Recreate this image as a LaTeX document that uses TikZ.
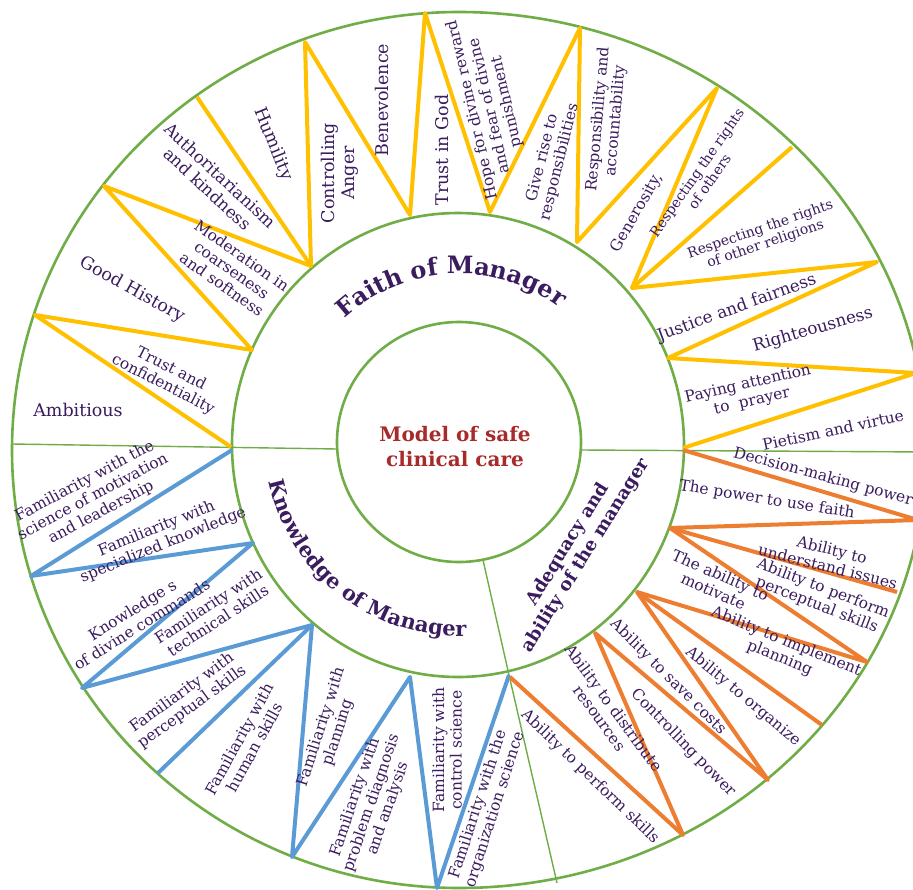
\documentclass[tikz,border=0pt]{standalone}
\usepackage{fontspec}
\setmainfont{DejaVu Serif}
\usepackage{tikz}
\usetikzlibrary{decorations.text}
\definecolor{ringGreen}{RGB}{112,173,71}
\definecolor{faithGold}{RGB}{255,192,0}
\definecolor{knowBlue}{RGB}{91,155,213}
\definecolor{abilOrange}{RGB}{237,125,49}
\definecolor{labelPurple}{RGB}{58,28,95}
\definecolor{coreRed}{RGB}{168,42,42}
\newcommand{\titlefont}{\bfseries\fontsize{24}{27}\selectfont}
\newcommand{\knowfont}{\bfseries\fontsize{21}{24}\selectfont}

\begin{document}
\begin{tikzpicture}[
    x=1pt, y=-1pt,
    ring/.style={draw=ringGreen, line width=2.6pt},
    divider/.style={draw=ringGreen, line width=1.4pt},
    faith/.style={draw=faithGold, line width=4pt, line join=round},
    know/.style={draw=knowBlue, line width=4pt, line join=round},
    abil/.style={draw=abilOrange, line width=4pt, line join=round},
    lbl/.style={text=labelPurple, align=center, inner sep=0pt, font=\fontsize{15.5}{17.5}\selectfont},
    lblbig/.style={lbl, font=\fontsize{17.5}{19.5}\selectfont},
    lblmid/.style={lbl, font=\fontsize{16.8}{18.5}\selectfont},
    lblsmall/.style={lbl, font=\fontsize{14}{15.5}\selectfont},
    sectitle/.style={text=labelPurple, align=center, inner sep=0pt, font=\bfseries\fontsize{18}{21}\selectfont},
    coretext/.style={text=coreRed, align=center, inner sep=0pt, font=\bfseries\fontsize{20}{25}\selectfont}
]
    \clip (0,0) rectangle (913,889);
    \fill[white] (0,0) rectangle (913,889);

    % Rings
    \draw[ring] (459,12) arc[start angle=270, end angle=90, x radius=447, y radius=438]
        arc[start angle=90, end angle=-90, x radius=467, y radius=438];
    \draw[ring] (458,445) ellipse[x radius=226, y radius=232];
    \draw[ring] (459,442) ellipse[x radius=122, y radius=120];

    % Dividers
    \coordinate (dl-out) at (12,444);
    \coordinate (dl-in) at (337,449);
    \coordinate (dr-in) at (581,450);
    \coordinate (dr-out) at (930,452);
    \coordinate (db-in) at (483,560);
    \coordinate (db-mid) at (509,675);
    \coordinate (db-out) at (557,883);
    \draw[divider] (dl-out) -- (dl-in);
    \draw[divider] (dr-in) -- (dr-out);
    \draw[divider] (db-in) -- (db-mid) -- (db-out);

    % Faith zigzag
    \coordinate (y1) at (231,447);
    \coordinate (y2) at (35,315);
    \coordinate (y3) at (252,350);
    \coordinate (y4) at (104,186);
    \coordinate (y5) at (311,266);
    \coordinate (y6) at (197,97);
    \coordinate (y7) at (305,42);
    \coordinate (y8) at (410,215);
    \coordinate (y9) at (425,13);
    \coordinate (y10) at (490,212);
    \coordinate (y11) at (580,28);
    \coordinate (y12) at (577,242);
    \coordinate (y13) at (717,88);
    \coordinate (y14) at (632,288);
    \coordinate (y15) at (792,147);
    \coordinate (y16) at (877,262);
    \coordinate (y17) at (668,358);
    \coordinate (y18) at (916,373);
    \coordinate (y19) at (683,448);
    \draw[faith] (y1) -- (y2) -- (y3) -- (y4) -- (y5) -- (y7) -- (y8) -- (y9) -- (y10)
        -- (y11) -- (y12) -- (y13) -- (y14) -- (y16) -- (y17) -- (y18) -- (y19);
    \draw[faith] (y5) -- (y6);
    \draw[faith] (y14) -- (y15);

    % Knowledge zigzag
    \coordinate (b1) at (232,450);
    \coordinate (b2) at (31,576);
    \coordinate (b3) at (253,543);
    \coordinate (b4) at (82,688);
    \coordinate (b5) at (312,625);
    \coordinate (b6) at (158,773);
    \coordinate (b7) at (292,857);
    \coordinate (b8) at (410,677);
    \coordinate (b9) at (437,888);
    \coordinate (b10) at (509,675);
    \draw[know] (b1) -- (b2) -- (b3) -- (b4) -- (b5) -- (b7) -- (b8) -- (b9) -- (b10);
    \draw[know] (b5) -- (b6);

    % Adequacy zigzag
    \coordinate (o1) at (683,450);
    \coordinate (o2) at (918,520);
    \coordinate (o3) at (670,528);
    \coordinate (o4) at (897,592);
    \coordinate (o5) at (867,662);
    \coordinate (o6) at (637,592);
    \coordinate (o7) at (822,725);
    \coordinate (o8) at (768,780);
    \coordinate (o9) at (595,633);
    \coordinate (o10) at (683,835);
    \coordinate (o11) at (510,677);
    \draw[abil] (o1) -- (o2) -- (o3) -- (o5) -- (o6) -- (o8) -- (o9) -- (o10) -- (o11);
    \draw[abil] (o3) -- (o4);
    \draw[abil] (o6) -- (o7);

    % Centre and section titles
    \node[coretext] (core) at (455,447) {Model of safe\\clinical care};
    \path[decorate, decoration={text along path, text align=center, text color=labelPurple,
        text={|\titlefont|Faith of Manager}}]
        (459,442) ++(219:168) arc[start angle=219, end angle=315, radius=168];
    \path[decorate, decoration={text along path, text align=center, text color=labelPurple,
        text={|\knowfont|Knowledge of Manager}}]
        (459,442) ++(170:194) arc[start angle=170, end angle=86, radius=194];
    \node[sectitle, rotate=58] (adequacy) at (577,550) {Adequacy and\\ability of the manager};

    % Faith labels
    \node[lblbig] (ambitious) at (78,410) {Ambitious};
    \node[lbl, rotate=-27] (trust) at (167,377) {Trust and\\confidentiality};
    \node[lblbig, rotate=-29] (history) at (132,290) {Good History};
    \node[lblmid, rotate=-43] (authority) at (214,182) {Authoritarianism\\and kindness};
    \node[lbl, rotate=-35] (moderation) at (232,270) {Moderation in\\coarseness\\and softness};
    \node[lblbig, rotate=-68] (humility) at (273,144) {Humility};
    \node[lblbig, rotate=90] (anger) at (340,173) {Controlling\\Anger};
    \node[lblbig, rotate=90] (benevolence) at (382,100) {Benevolence};
    \node[lblbig, rotate=90] (trustgod) at (442,150) {Trust in God};
    \node[lbl, rotate=103] (hope) at (490,106) {Hope for divine reward\\and fear of divine\\punishment};
    \node[lbl, rotate=76] (giverise) at (551,160) {Give rise to\\responsibilities};
    \node[lbl, rotate=85] (responsibility) at (607,120) {Responsibility and\\accountability};
    \node[lbl, rotate=60] (generosity) at (637,213) {Generosity,};
    \node[lblsmall, rotate=55] (rightsothers) at (703,177) {Respecting the rights\\of others};
    \node[lblsmall, rotate=19] (religions) at (763,237) {Respecting the rights\\of other religions};
    \node[lblmid, rotate=20] (justice) at (737,308) {Justice and fairness};
    \node[lblmid, rotate=16] (righteous) at (813,330) {Righteousness};
    \node[lbl, rotate=13] (prayer) at (750,393) {Paying attention\\to\ \ prayer};
    \node[lbl, rotate=12] (pietism) at (833,430) {Pietism and virtue};

    % Knowledge labels
    \node[lbl, rotate=28] (motivation) at (93,497) {Familiarity with the\\science of motivation\\and leadership};
    \node[lbl, rotate=22] (specialized) at (160,537) {Familiarity with\\specialized knowledge};
    \node[lbl, rotate=32] (divine) at (137,617) {Knowledge s\\of divine commands};
    \node[lbl, rotate=33] (technical) at (213,613) {Familiarity with\\technical skills};
    \node[lbl, rotate=36] (perceptual) at (187,700) {Familiarity with\\perceptual skills};
    \node[lbl, rotate=61] (human) at (247,743) {Familiarity with\\human skills};
    \node[lbl, rotate=72] (planning) at (330,730) {Familiarity with\\planning};
    \node[lbl, rotate=71] (diagnosis) at (372,803) {Familiarity with\\problem diagnosis\\and analysis};
    \node[lbl, rotate=90] (control) at (447,750) {Familiarity with\\control science};
    \node[lbl, rotate=72] (organization) at (487,807) {Familiarity with the\\organization science};

    % Adequacy labels
    \node[lbl, rotate=-15] (decision) at (823,477) {Decision-making power};
    \node[lbl, rotate=-9] (usefaith) at (767,500) {The power to use faith};
    \node[lbl, rotate=-14] (understand) at (830,558) {Ability to\\understand issues};
    \node[lbl, rotate=-21] (perform) at (820,597) {Ability to perform\\perceptual skills};
    \node[lbl, rotate=-24] (motivate) at (717,583) {The ability to\\motivate};
    \node[lbl, rotate=-22] (implement) at (783,650) {Ability to implement\\planning};
    \node[lbl, rotate=-40] (organize) at (743,697) {Ability to organize};
    \node[lbl, rotate=-45] (savecosts) at (668,677) {Ability to save costs};
    \node[lbl, rotate=-54] (distribute) at (607,713) {Ability to distribute\\resources};
    \node[lbl, rotate=-46] (controlpower) at (683,743) {Controlling power};
    \node[lbl, rotate=-44] (skills) at (590,777) {Ability to perform skills};
\end{tikzpicture}
\end{document}
